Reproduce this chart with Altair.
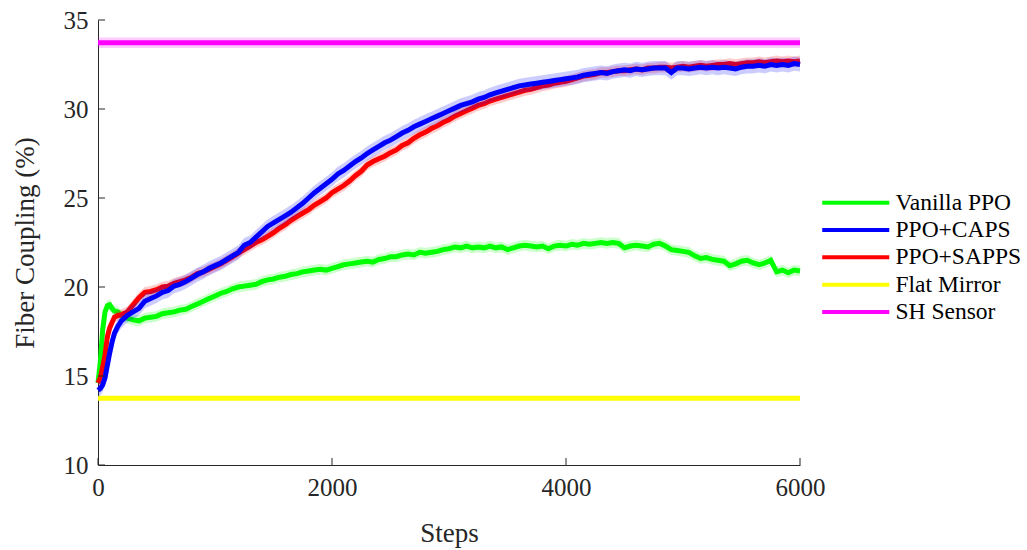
import altair as alt
import pandas as pd

# ---------------- data ----------------
steps = [0, 20, 40, 60, 80, 100, 120, 140, 170, 200, 250] + list(range(300, 6001, 50))

vanilla_ppo = [
    14.6, 15.8, 17.6, 18.6, 18.95, 19.0, 18.8, 18.65, 18.6, 18.4, 18.25,
    18.15, 18.1, 18.25, 18.3, 18.35, 18.5, 18.55, 18.6, 18.7, 18.75,
    18.9, 19.05, 19.2, 19.35, 19.5, 19.65, 19.75, 19.9, 20.0, 20.05,
    20.1, 20.15, 20.3, 20.4, 20.45, 20.55, 20.6, 20.7, 20.75, 20.85,
    20.9, 20.95, 21.0, 20.95, 21.05, 21.15, 21.25, 21.3, 21.35, 21.4,
    21.45, 21.4, 21.55, 21.6, 21.7, 21.7, 21.8, 21.85, 21.8, 21.95,
    21.9, 21.95, 22.0, 22.1, 22.15, 22.25, 22.2, 22.3, 22.2, 22.25,
    22.2, 22.3, 22.2, 22.25, 22.1, 22.2, 22.3, 22.35, 22.3, 22.25,
    22.3, 22.15, 22.3, 22.35, 22.3, 22.4, 22.35, 22.45, 22.4, 22.45,
    22.5, 22.45, 22.5, 22.45, 22.2, 22.3, 22.35, 22.3, 22.25, 22.4,
    22.45, 22.3, 22.1, 22.05, 22.0, 21.95, 21.75, 21.6, 21.65, 21.55,
    21.5, 21.45, 21.2, 21.3, 21.45, 21.5, 21.35, 21.25, 21.35, 21.5,
    20.85, 20.95, 20.8, 20.95, 20.9,
]

ppo_caps = [
    14.2, 14.3, 14.5, 14.9, 15.6, 16.3, 16.9, 17.4, 17.8, 18.1, 18.4,
    18.6, 18.8, 19.2, 19.35, 19.5, 19.7, 19.8, 20.05, 20.15, 20.3,
    20.5, 20.7, 20.85, 21.05, 21.2, 21.35, 21.55, 21.75, 21.95, 22.35,
    22.5, 22.8, 23.1, 23.4, 23.6, 23.8, 24.0, 24.2, 24.45, 24.7,
    25.0, 25.3, 25.55, 25.8, 26.05, 26.35, 26.55, 26.8, 27.05, 27.25,
    27.5, 27.7, 27.9, 28.1, 28.25, 28.45, 28.65, 28.8, 29.0, 29.15,
    29.3, 29.45, 29.6, 29.75, 29.9, 30.05, 30.2, 30.3, 30.4, 30.55,
    30.65, 30.8, 30.9, 31.0, 31.1, 31.2, 31.3, 31.35, 31.4, 31.45,
    31.5, 31.55, 31.6, 31.65, 31.7, 31.75, 31.8, 31.9, 31.95, 32.0,
    32.05, 32.0, 32.1, 32.15, 32.2, 32.15, 32.25, 32.2, 32.25, 32.3,
    32.3, 32.3, 32.05, 32.3, 32.3, 32.25, 32.3, 32.35, 32.3, 32.35,
    32.3, 32.35, 32.3, 32.25, 32.35, 32.4, 32.4, 32.45, 32.4, 32.5,
    32.45, 32.5, 32.45, 32.55, 32.5,
]

ppo_sapps = [
    14.6, 14.9, 15.5, 16.2, 17.2, 17.7, 18.0, 18.3, 18.4, 18.45, 18.6,
    19.0, 19.4, 19.7, 19.75, 19.85, 20.0, 20.05, 20.2, 20.3, 20.4,
    20.55, 20.75, 20.85, 21.0, 21.15, 21.3, 21.5, 21.7, 21.9, 22.1,
    22.3, 22.5, 22.65, 22.85, 23.05, 23.3, 23.5, 23.75, 23.95, 24.15,
    24.35, 24.6, 24.8, 25.0, 25.3, 25.5, 25.7, 25.95, 26.25, 26.5,
    26.85, 27.05, 27.2, 27.35, 27.55, 27.7, 27.95, 28.1, 28.35, 28.55,
    28.7, 28.9, 29.05, 29.25, 29.4, 29.6, 29.75, 29.9, 30.05, 30.2,
    30.3, 30.45, 30.55, 30.65, 30.75, 30.85, 30.95, 31.05, 31.1, 31.2,
    31.3, 31.35, 31.45, 31.5, 31.55, 31.65, 31.75, 31.85, 31.9, 31.95,
    32.05, 32.05, 32.1, 32.15, 32.15, 32.2, 32.25, 32.2, 32.3, 32.3,
    32.35, 32.35, 32.3, 32.35, 32.4, 32.35, 32.4, 32.45, 32.4, 32.45,
    32.5, 32.5, 32.55, 32.5, 32.55, 32.6, 32.6, 32.65, 32.6, 32.65,
    32.7, 32.65, 32.7, 32.65, 32.7,
]

flat_mirror_level = 13.75
sh_sensor_level = 33.72
baseline_steps = [0, 6000]

# half-width of the shaded spread around each curve
spread = {"Vanilla PPO": 0.3, "PPO+CAPS": 0.4, "PPO+SAPPS": 0.3, "SH Sensor": 0.3}

series_names = ["Vanilla PPO", "PPO+CAPS", "PPO+SAPPS", "Flat Mirror", "SH Sensor"]
series_colors = ["#00ff00", "#0000ff", "#ff0000", "#ffff00", "#ff00ff"]

x_ticks = [0, 2000, 4000, 6000]
y_ticks = [10, 15, 20, 25, 30, 35]

# ---------------- build tables ----------------
rows = []
for name, vals in [("Vanilla PPO", vanilla_ppo), ("PPO+CAPS", ppo_caps), ("PPO+SAPPS", ppo_sapps)]:
    for s, v in zip(steps, vals):
        rows.append({"step": s, "value": v, "series": name,
                     "lo": v - spread[name], "hi": v + spread[name]})
for s in baseline_steps:
    rows.append({"step": s, "value": flat_mirror_level, "series": "Flat Mirror",
                 "lo": flat_mirror_level, "hi": flat_mirror_level})
    rows.append({"step": s, "value": sh_sensor_level, "series": "SH Sensor",
                 "lo": sh_sensor_level - spread["SH Sensor"], "hi": sh_sensor_level + spread["SH Sensor"]})
df = pd.DataFrame(rows)

FONT = "Liberation Serif"
TXT = "#262626"

xscale = alt.Scale(domain=[0, 6000], nice=False, zero=False)
yscale = alt.Scale(domain=[10, 35], nice=False, zero=False)
cscale = alt.Scale(domain=series_names, range=series_colors)

x_axis = alt.Axis(values=x_ticks, title="Steps", grid=False, ticks=False,
                  labelFont=FONT, labelFontSize=25, labelColor=TXT, labelPadding=10,
                  labelFlush=False, labelOverlap=False,
                  titleFont=FONT, titleFontSize=27, titleFontWeight="normal",
                  titleColor=TXT, titlePadding=20, domainColor=TXT, format="d")
y_axis = alt.Axis(values=y_ticks, title="Fiber Coupling (%)", grid=False, ticks=False,
                  labelFont=FONT, labelFontSize=25, labelColor=TXT, labelPadding=10,
                  labelFlush=False, labelOverlap=False,
                  titleFont=FONT, titleFontSize=27, titleFontWeight="normal",
                  titleColor=TXT, titlePadding=24, domainColor=TXT, format="d")

# wide, thin stroke symbol: path spans 4 radii, so a small size gives a long line
legend = alt.Legend(title=None, orient="none", legendX=746, legendY=171,
                    symbolType="M-4,0L4,0", symbolSize=281, symbolStrokeWidth=4,
                    labelFont=FONT, labelFontSize=23.5, labelColor="black",
                    labelOffset=28, rowPadding=2.3, padding=0)


def band(name):
    return alt.Chart(df[df.series == name]).mark_area(opacity=0.2).encode(
        x=alt.X("step:Q", scale=xscale, axis=x_axis),
        y=alt.Y("lo:Q", scale=yscale, axis=y_axis),
        y2="hi:Q",
        color=alt.Color("series:N", scale=cscale, legend=None),
    )


def line(name):
    return alt.Chart(df[df.series == name]).mark_line(strokeWidth=5).encode(
        x=alt.X("step:Q", scale=xscale, axis=x_axis),
        y=alt.Y("value:Q", scale=yscale, axis=y_axis),
        color=alt.Color("series:N", scale=cscale, legend=legend),
    )


ytick_df = pd.DataFrame({"v": y_ticks})
xtick_df = pd.DataFrame({"v": x_ticks})
yticks = alt.Chart(ytick_df).mark_rule(color=TXT, strokeWidth=1).encode(
    y=alt.Y("v:Q", scale=yscale, axis=y_axis), x=alt.value(0), x2=alt.value(7))
xticks = alt.Chart(xtick_df).mark_rule(color=TXT, strokeWidth=1).encode(
    x=alt.X("v:Q", scale=xscale, axis=x_axis), y=alt.value(445), y2=alt.value(438))

chart = alt.layer(
    line("Flat Mirror"),
    band("SH Sensor"), line("SH Sensor"),
    band("Vanilla PPO"), line("Vanilla PPO"),
    band("PPO+SAPPS"), line("PPO+SAPPS"),
    band("PPO+CAPS"), line("PPO+CAPS"),
    yticks, xticks,
).properties(
    width=702, height=445,
    autosize=alt.AutoSizeParams(type="none"),
    padding={"left": 98, "top": 20, "right": 227, "bottom": 85},
    background="white",
).configure_view(strokeWidth=0)

chart.save("out.html", embed_options={"renderer": "svg", "actions": False})
